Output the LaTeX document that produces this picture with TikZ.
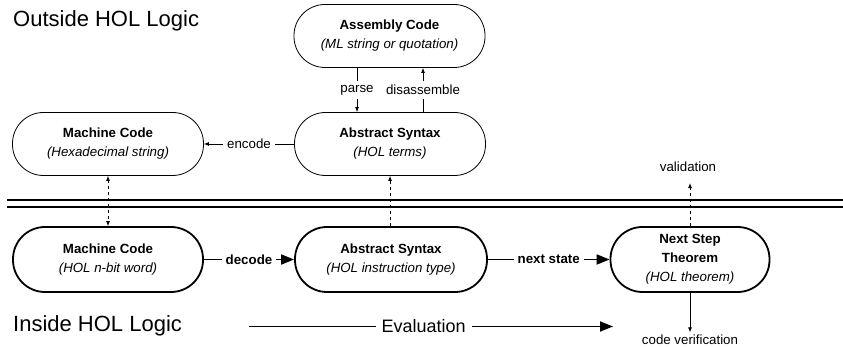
\documentclass[tikz,border=0pt]{standalone}
\usepackage{fontspec}
\setmainfont{Liberation Sans}
\usetikzlibrary{arrows.meta}
\begin{document}
\begin{tikzpicture}[x=1pt,y=-1pt,
  txt/.style={font=\fontsize{13.3}{19}\selectfont},
  outbox/.style={draw, line width=0.8pt, rounded corners=31pt, minimum width=191pt, minimum height=63pt, align=center, inner sep=0pt, txt},
  inbox/.style={draw, line width=1.8pt, rounded corners=32pt, minimum height=65pt, align=center, inner sep=0pt, txt},
  thin/.style={line width=0.8pt, -{Latex[length=5pt,width=4pt]}},
  thick/.style={line width=1.8pt, -{Triangle[length=13pt,width=10pt]}},
  lbl/.style={fill=white, inner sep=4pt, txt},
  big/.style={font=\fontsize{22}{26}\selectfont, anchor=west, inner sep=0pt}
]
\useasboundingbox (0,0) rectangle (843,347);

\node[big] (outside) at (13,21) {Outside HOL Logic};
\node[big] (inside) at (13,326) {Inside HOL Logic};

% outside nodes
\node[outbox] (asm) at (389.5,36) {\textbf{Assembly Code}\\\textit{(ML string or quotation)}};
\node[outbox] (absO) at (390,144) {\textbf{Abstract Syntax}\\\textit{(HOL terms)}};
\node[outbox] (mcO) at (108,144) {\textbf{Machine Code}\\\textit{(Hexadecimal string)}};

% inside nodes
\node[inbox, minimum width=190pt] (mcI) at (108,259.5) {\textbf{Machine Code}\\\textit{(HOL n-bit word)}};
\node[inbox, minimum width=192pt] (absI) at (391,259.5) {\textbf{Abstract Syntax}\\\textit{(HOL instruction type)}};
\node[inbox, minimum width=159pt] (nst) at (690,259.5) {\textbf{Next Step}\\\textbf{Theorem}\\\textit{(HOL theorem)}};

% double line
\coordinate (dl1) at (7,200);
\coordinate (dr1) at (843,200);
\coordinate (dl2) at (7,207);
\coordinate (dr2) at (843,207);
\draw[line width=2pt] (dl1) -- (dr1);
\draw[line width=2pt] (dl2) -- (dr2);

% outside connectors
\draw[thin] (asm.south -| 357,0) -- node[lbl] (parse) {parse} (absO.north -| 357,0);
\draw[thin] (absO.north -| 423,0) -- node[lbl] (dis) {disassemble} (asm.south -| 423,0);
\draw[thin] (absO.west) -- node[lbl] (enc) {encode} (mcO.east);

% vertical dashed
\draw[thin, dashed, {Latex[length=5pt,width=4pt]}-{Latex[length=5pt,width=4pt]}] (mcO.south) -- (mcI.north);
\draw[thin, dashed] (absI.north -| absO.south) -- (absO.south);

\node[txt, inner sep=0pt] (val) at (688,167) {validation};
\draw[thin, dashed] (nst.north) -- ([yshift=-11pt]val.south -| nst.north);

\node[txt, inner sep=0pt] (cv) at (690,339.5) {code verification};
\draw[thin] (nst.south) -- ([yshift=2pt]cv.north -| nst.south);

% inside connectors
\draw[thick] (mcI.east) -- node[lbl, font=\fontsize{13.3}{19}\selectfont\bfseries] (dec) {decode} (absI.west);
\draw[thick] (absI.east) -- node[lbl, font=\fontsize{13.3}{19}\selectfont\bfseries] (ns) {next state} (nst.west);

\coordinate (ev1) at (249,326.5);
\coordinate (ev2) at (613,326.5);
\draw[thick] (ev1) -- node[lbl, pos=0.48, inner sep=6pt, font=\fontsize{18}{22}\selectfont] (eval) {Evaluation} (ev2);
\end{tikzpicture}
\end{document}
